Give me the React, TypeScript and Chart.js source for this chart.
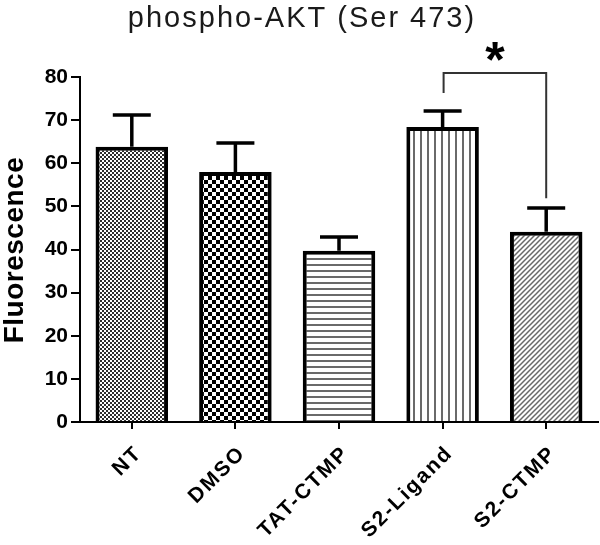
import React, { useEffect, useRef } from "react";
import { Chart, registerables } from "chart.js";

Chart.register(...registerables);

const titleText = "phospho-AKT (Ser 473)";
const yTitle = "Fluorescence";
const categories = ["NT", "DMSO", "TAT-CTMP", "S2-Ligand", "S2-CTMP"];
const means = [63.8, 58.0, 39.7, 68.4, 44.1];
const sems = [7.4, 6.7, 3.2, 3.7, 5.5];
const yTicks = [0, 10, 20, 30, 40, 50, 60, 70, 80];
// significance bracket: [fromIndex, toIndex], top value, left end value, right end value, star value
const sigPair = [3, 4];
const sigLevels = [80.9, 76.3, 51.9];
const sigStarValue = [85.8];
const sigLabel = "*";

function makeTile(w: number, h: number, draw: (c: CanvasRenderingContext2D) => void) {
  const t = document.createElement("canvas");
  t.width = w;
  t.height = h;
  const c = t.getContext("2d")!;
  c.fillStyle = "#fff";
  c.fillRect(0, 0, w, h);
  draw(c);
  return t;
}

function makePatterns(ctx: CanvasRenderingContext2D) {
  const fine = makeTile(4, 4, (c) => {
    c.fillStyle = "#2e2e2e";
    c.fillRect(0, 0, 2, 2);
    c.fillRect(2, 2, 2, 2);
  });
  const coarse = makeTile(8, 8, (c) => {
    c.fillStyle = "#000";
    c.fillRect(0, 0, 4, 4);
    c.fillRect(4, 4, 4, 4);
  });
  const horiz = makeTile(6, 6, (c) => {
    c.fillStyle = "#6a6a6a";
    c.fillRect(0, 0, 6, 2);
  });
  const vert = makeTile(7, 7, (c) => {
    c.fillStyle = "#6a6a6a";
    c.fillRect(0, 0, 2, 7);
  });
  const diag = makeTile(5, 5, (c) => {
    c.strokeStyle = "#6a6a6a";
    c.lineWidth = 1.5;
    c.beginPath();
    c.moveTo(-1, 6);
    c.lineTo(6, -1);
    c.moveTo(-1, 1);
    c.lineTo(1, -1);
    c.moveTo(4, 6);
    c.lineTo(6, 4);
    c.stroke();
  });
  return [fine, coarse, horiz, vert, diag].map((t) => ctx.createPattern(t, "repeat")!);
}

const overlay = {
  id: "overlay",
  afterDatasetsDraw(chart: any) {
    const ctx = chart.ctx;
    const x = chart.scales.x;
    const y = chart.scales.y;
    ctx.save();
    ctx.strokeStyle = "#000";
    ctx.lineWidth = 3.5;
    ctx.lineCap = "butt";
    means.forEach((m, i) => {
      const cx = x.getPixelForValue(i);
      const top = y.getPixelForValue(m + sems[i]);
      const base = y.getPixelForValue(m);
      ctx.beginPath();
      ctx.moveTo(cx, base);
      ctx.lineTo(cx, top);
      ctx.moveTo(cx - 19, top);
      ctx.lineTo(cx + 19, top);
      ctx.stroke();
    });
    ctx.restore();
  },
  afterDraw(chart: any) {
    const ctx = chart.ctx;
    const x = chart.scales.x;
    const y = chart.scales.y;
    ctx.save();
    // bracket
    const x1 = x.getPixelForValue(sigPair[0]) + 1;
    const x2 = x.getPixelForValue(sigPair[1]);
    ctx.strokeStyle = "#333";
    ctx.lineWidth = 2;
    ctx.beginPath();
    ctx.moveTo(x1, y.getPixelForValue(sigLevels[1]));
    ctx.lineTo(x1, y.getPixelForValue(sigLevels[0]));
    ctx.lineTo(x2, y.getPixelForValue(sigLevels[0]));
    ctx.lineTo(x2, y.getPixelForValue(sigLevels[2]));
    ctx.stroke();
    // star
    ctx.fillStyle = "#000";
    ctx.font = "bold 50px 'Liberation Sans', Arial, sans-serif";
    ctx.textAlign = "center";
    ctx.textBaseline = "alphabetic";
    const mm = ctx.measureText(sigLabel);
    const sy = y.getPixelForValue(sigStarValue[0]);
    const off = (mm.actualBoundingBoxAscent - mm.actualBoundingBoxDescent) / 2;
    ctx.fillText(sigLabel, (x1 + x2) / 2, sy + off);
    // x labels
    ctx.font = "bold 21px 'Liberation Sans', Arial, sans-serif";
    (ctx as any).letterSpacing = "2px";
    ctx.textAlign = "right";
    ctx.textBaseline = "middle";
    categories.forEach((c, i) => {
      const cx = x.getPixelForValue(i);
      ctx.save();
      ctx.translate(cx + 7, 450);
      ctx.rotate(-Math.PI / 4);
      ctx.fillText(c, 0, 0);
      ctx.restore();
    });
    // y title
    ctx.save();
    ctx.font = "bold 28px 'Liberation Sans', Arial, sans-serif";
    (ctx as any).letterSpacing = "0.5px";
    ctx.textAlign = "center";
    ctx.textBaseline = "middle";
    ctx.translate(15, 250);
    ctx.rotate(-Math.PI / 2);
    ctx.fillText(yTitle, 0, 0);
    ctx.restore();
    // title
    ctx.font = "normal 29px 'Liberation Sans', Arial, sans-serif";
    (ctx as any).letterSpacing = "2px";
    ctx.fillStyle = "#1a1a1a";
    ctx.textAlign = "center";
    ctx.textBaseline = "middle";
    ctx.fillText(titleText, 302, 19);
    ctx.restore();
  },
};

export default function App() {
  const ref = useRef<HTMLCanvasElement>(null);
  useEffect(() => {
    const canvas = ref.current!;
    const ctx = canvas.getContext("2d")!;
    const patterns = makePatterns(ctx);
    const chart = new Chart(canvas, {
      type: "bar",
      data: {
        labels: categories,
        datasets: [
          {
            data: means,
            backgroundColor: patterns as any,
            borderColor: "#000",
            borderWidth: 4,
            borderSkipped: "bottom",
            barPercentage: 0.7,
            categoryPercentage: 1,
          },
        ],
      },
      options: {
        animation: false,
        responsive: true,
        maintainAspectRatio: false,
        layout: { padding: { top: 77, left: 0, right: 2, bottom: 0 } },
        plugins: { legend: { display: false }, title: { display: false }, tooltip: { enabled: false } },
        scales: {
          x: {
            afterFit: (s: any) => {
              s.height = 123;
            },
            grid: {
              display: true,
              drawOnChartArea: false,
              drawTicks: true,
              tickLength: 7,
              offset: false,
              color: "#000",
              lineWidth: 2,
            },
            border: { display: true, color: "#000", width: 2 },
            ticks: { display: false },
          },
          y: {
            min: 0,
            max: 80,
            afterFit: (s: any) => {
              s.width = 80;
            },
            afterBuildTicks: (s: any) => {
              s.ticks = yTicks.map((v) => ({ value: v }));
            },
            grid: {
              display: true,
              drawOnChartArea: false,
              drawTicks: true,
              tickLength: 9,
              color: "#000",
              lineWidth: 2,
            },
            border: { display: true, color: "#000", width: 2 },
            ticks: {
              color: "#000",
              padding: 3,
              font: { family: "'Liberation Sans', Arial, sans-serif", size: 21, weight: "bold" },
            },
          },
        },
      },
      plugins: [overlay],
    });
    return () => chart.destroy();
  }, []);
  return (
    <div style={{ position: "absolute", left: 0, top: 0, width: 600, height: 545, background: "#fff" }}>
      <canvas ref={ref} />
    </div>
  );
}
